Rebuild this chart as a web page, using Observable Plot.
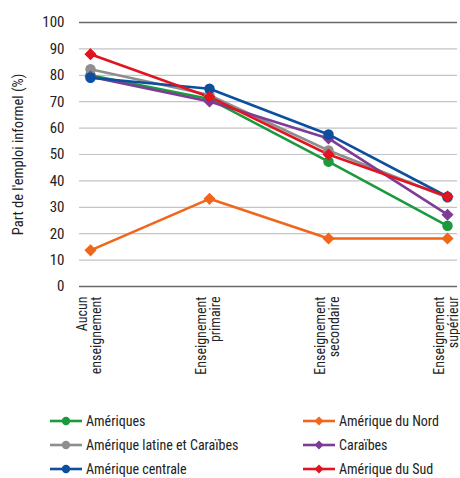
<!DOCTYPE html>
<html><head><meta charset="utf-8">
<script src="https://cdn.jsdelivr.net/npm/d3@7"></script>
<script src="https://cdn.jsdelivr.net/npm/@observablehq/plot@0.6"></script>
<style>
body{margin:0;background:#fff;font-family:"Liberation Sans Narrow","Roboto Condensed","DejaVu Sans Condensed","DejaVu Sans",sans-serif;font-stretch:condensed;}
svg text{font-stretch:condensed;}
#legend{position:relative;height:78px;font-size:14px;color:#222;}
.item{position:absolute;display:flex;align-items:center;height:18px;white-space:nowrap;}
.item svg{margin-right:4px;}
</style></head>
<body>
<div id="chart"></div>
<div id="legend"></div>
<script>
const categories = ["Aucun\nenseignement", "Enseignement\nprimaire", "Enseignement\nsecondaire", "Enseignement\nsupérieur"];
const seriesNames = ["Amériques", "Amérique du Nord", "Amérique latine et Caraïbes", "Caraïbes", "Amérique centrale", "Amérique du Sud"];
const ameriques = [80, 71, 47.3, 23];
const ameriqueNord = [13.7, 33.2, 18.2, 18.2];
const ameriqueLatine = [82.3, 72.5, 51.5, 33.7];
const caraibes = [79.5, 70.1, 56.1, 27.2];
const ameriqueCentrale = [79.1, 74.9, 57.6, 34];
const ameriqueSud = [88, 71.8, 50, 34.1];
const yTicks = [0, 10, 20, 30, 40, 50, 60, 70, 80, 90, 100];

const colors = {"Amériques":"#1a9a3c","Amérique du Nord":"#f0661a","Amérique latine et Caraïbes":"#8e8e90","Caraïbes":"#7d3c96","Amérique centrale":"#0b4f9e","Amérique du Sud":"#e2141f"};
const symbols = {"Amériques":"circle","Amérique du Nord":"diamond2","Amérique latine et Caraïbes":"circle","Caraïbes":"diamond2","Amérique centrale":"circle","Amérique du Sud":"diamond2"};
const valuesBySeries = {"Amériques":ameriques,"Amérique du Nord":ameriqueNord,"Amérique latine et Caraïbes":ameriqueLatine,"Caraïbes":caraibes,"Amérique centrale":ameriqueCentrale,"Amérique du Sud":ameriqueSud};

const data = [];
for (const s of seriesNames) valuesBySeries[s].forEach((v,i)=>data.push({series:s, cat:categories[i], value:v}));

const font = '"Liberation Sans Narrow","Roboto Condensed","DejaVu Sans Condensed","DejaVu Sans",sans-serif';
const plot = Plot.plot({
  width: 460, height: 400,
  marginLeft: 79, marginRight: 3, marginTop: 22, marginBottom: 114,
  style: {fontFamily: font, fontSize: "13px", color: "#222", background: "#fff"},
  x: {type: "point", domain: categories, padding: 0.085, axis: null},
  y: {domain: [0, 100], ticks: yTicks, tickSize: 0, tickPadding: 15, label: null},
  marks: [
    Plot.ruleY(yTicks.filter(t=>t>0 && t<100), {stroke: "#c4c4c8", strokeWidth: 1.2}),
    Plot.ruleY([0, 100], {stroke: "#6a6a6a", strokeWidth: 1.5}),
    Plot.axisY({ticks: yTicks, tickSize: 0, tickPadding: 15, fontSize: 15, label: null}),
    Plot.text(["Part de l'emploi informel (%)"], {frameAnchor: "left", textAnchor: "middle", dx: -61, dy: 0, rotate: -90, fontSize: 14.5, fill: "#222"}),
    Plot.text(categories, {x: d=>d, y: 0, rotate: -90, textAnchor: "end", lineAnchor: "middle", dy: 10, dx: -1, fontSize: 14, lineHeight: 1.0, fill: "#222"}),
    ...seriesNames.map(s => Plot.line(data.filter(d=>d.series===s), {x: "cat", y: "value", stroke: colors[s], strokeWidth: 2.6})),
    ...seriesNames.map(s => Plot.dot(data.filter(d=>d.series===s), {x: "cat", y: "value", fill: colors[s], stroke: colors[s], symbol: symbols[s], r: 4.5}))
  ]
});
document.getElementById("chart").appendChild(plot);

const legendOrder = [["Amériques",0,0],["Amérique latine et Caraïbes",0,1],["Amérique centrale",0,2],["Amérique du Nord",1,0],["Caraïbes",1,1],["Amérique du Sud",1,2]];
const leg = document.getElementById("legend");
for (const [name,col,row] of legendOrder) {
  const div = document.createElement("div");
  div.className = "item";
  div.style.left = (col ? 303 : 50) + "px";
  div.style.top = (12 + row*24) + "px";
  const isC = symbols[name]==="circle";
  const mk = isC ? `<circle cx="16" cy="7" r="4.2" fill="${colors[name]}"/>` : `<path d="M16 2.5 L20.5 7 L16 11.5 L11.5 7Z" fill="${colors[name]}"/>`;
  div.innerHTML = `<svg width="32" height="14"><line x1="0" x2="32" y1="7" y2="7" stroke="${colors[name]}" stroke-width="2.6"/>${mk}</svg><span>${name}</span>`;
  leg.appendChild(div);
}
</script>
</body></html>
